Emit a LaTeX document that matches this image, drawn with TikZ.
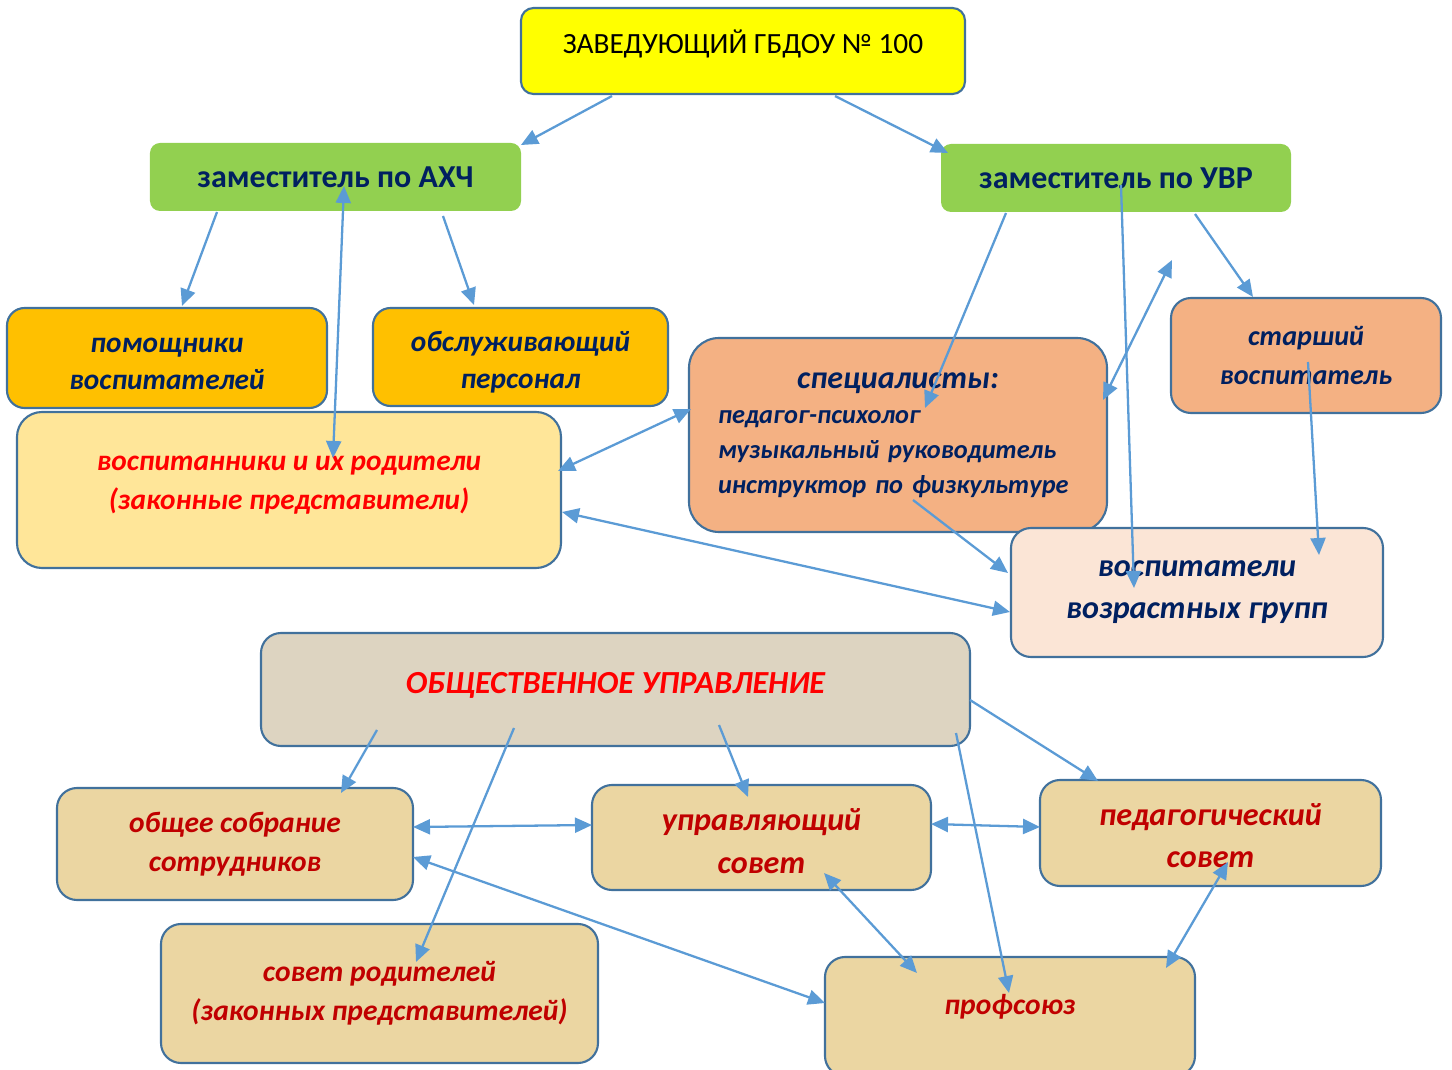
\documentclass[tikz,border=0pt]{standalone}
\usepackage{fontspec}
\setmainfont{Carlito}
\usepackage{tikz}
\usetikzlibrary{arrows.meta, positioning}

\definecolor{boxline}{HTML}{41719C}
\definecolor{linkblue}{HTML}{5B9BD5}
\definecolor{headyellow}{HTML}{FFFF00}
\definecolor{deputygreen}{HTML}{92D050}
\definecolor{navytext}{HTML}{002060}
\definecolor{staffamber}{HTML}{FFC000}
\definecolor{familyyellow}{HTML}{FFE699}
\definecolor{specpeach}{HTML}{F4B183}
\definecolor{grouppeach}{HTML}{FBE5D6}
\definecolor{linen}{HTML}{DDD4C1}
\definecolor{papyrus}{HTML}{EBD6A2}
\definecolor{councilred}{HTML}{C00000}

% move a block of lines inside its box: extra depth lifts it, extra height drops it
\newcommand{\liftlines}[2]{\raisebox{0pt}[\height][\dimexpr\depth+#1\relax]{\begin{tabular}{@{}c@{}}#2\end{tabular}}}
\newcommand{\droplines}[2]{\raisebox{0pt}[\dimexpr\height+#1\relax][\depth]{\begin{tabular}{@{}c@{}}#2\end{tabular}}}

\begin{document}
\begin{tikzpicture}[
    x=0.2mm, y=-0.2mm,
    base box/.style={rectangle, inner sep=0pt, align=center, draw=boxline, line width=1.2pt, rounded corners=3.5mm},
    head node/.style={base box, fill=headyellow, rounded corners=2.5mm, font=\fontsize{16.7}{20}\selectfont},
    deputy node/.style={rectangle, inner sep=0pt, fill=deputygreen, rounded corners=2mm, text=navytext, font=\fontsize{18.2}{22}\selectfont\bfseries},
    staff node/.style={base box, fill=staffamber, text=navytext, font=\fontsize{16.7}{21}\selectfont\bfseries\itshape},
    family node/.style={base box, fill=familyyellow, rounded corners=5mm, text=red, font=\fontsize{16.7}{22}\selectfont\bfseries\itshape},
    spec node/.style={base box, fill=specpeach, rounded corners=6mm, text=navytext, font=\fontsize{15}{20}\selectfont\bfseries\itshape},
    group node/.style={base box, fill=grouppeach, rounded corners=4mm, text=navytext, font=\fontsize{18.3}{24}\selectfont\bfseries\itshape},
    public node/.style={base box, fill=linen, rounded corners=4mm, text=red, font=\fontsize{18.3}{22}\selectfont\bfseries\itshape},
    council node/.style={base box, fill=papyrus, rounded corners=4mm, text=councilred, font=\fontsize{16.8}{22}\selectfont\bfseries\itshape},
    big council/.style={council node, font=\fontsize{18.3}{24}\selectfont\bfseries\itshape},
    arrow/.style={-{Triangle[length=3.4mm,width=3mm]}, draw=linkblue, line width=1.3pt},
    twoway/.style={arrow, {Triangle[length=3.4mm,width=3mm]}-{Triangle[length=3.4mm,width=3mm]}}
]
\useasboundingbox (0,0) rectangle (1452,1070);

% administration
\node[head node, minimum width=88.8mm, minimum height=17.2mm] (head) at (743,51) {\raisebox{3.6mm}{ЗАВЕДУЮЩИЙ ГБДОУ № 100}};
\node[deputy node, minimum width=74.2mm, minimum height=13.6mm] (axch) at (335.5,177) {заместитель по АХЧ};
\node[deputy node, minimum width=70mm, minimum height=13.6mm] (uvr) at (1116,178) {заместитель по УВР};

\node[staff node, minimum width=64mm, minimum height=20mm] (helpers) at (167,358) {\droplines{2.4mm}{помощники\\воспитателей}};
\node[staff node, minimum width=59mm, minimum height=19.6mm] (service) at (520.5,357) {\droplines{2.4mm}{обслуживающий\\персонал}};
\node[family node, minimum width=108.8mm, minimum height=31.2mm] (family) at (289,490)
    {\liftlines{3.2mm}{воспитанники и их родители\\(законные представители)}};
\node[spec node, minimum width=83.6mm, minimum height=38.8mm, text width=72mm, align=left] (spec) at (898,435)
    {\makebox[\linewidth][c]{\fontsize{18.2}{24}\selectfont специалисты:}\\педагог-психолог\\музыкальный руководитель\\инструктор по физкультуре};
\node[spec node, rounded corners=4mm, minimum width=54mm, minimum height=23mm, font=\fontsize{16}{22}\selectfont\bfseries\itshape] (senior) at (1306,355.5) {старший\\воспитатель};
\node[group node, minimum width=74.4mm, minimum height=25.8mm] (groups) at (1197,592.5) {воспитатели\\возрастных групп};
\coordinate (free) at (1172,260);

% public administration
\node[public node, minimum width=141.8mm, minimum height=22.6mm] (public) at (615.5,689.5) {\raisebox{2.8mm}{ОБЩЕСТВЕННОЕ УПРАВЛЕНИЕ}};
\node[council node, minimum width=71.2mm, minimum height=22.4mm] (assembly) at (235,844) {общее собрание\\сотрудников};
\node[big council, minimum width=67.8mm, minimum height=21mm] (board) at (761.5,837.5) {\droplines{2.4mm}{управляющий\\совет}};
\node[big council, minimum width=68.2mm, minimum height=21.2mm] (pedcouncil) at (1210.5,833) {\droplines{2mm}{педагогический\\совет}};
\node[council node, minimum width=87.4mm, minimum height=27.8mm] (parents) at (379.5,993.5) {совет родителей\\(законных представителей)};
\node[council node, minimum width=74mm, minimum height=23.8mm] (union) at (1010,1016.5) {\raisebox{4.8mm}{профсоюз}};

% links
\draw[arrow] ([shift={(-131,45)}]head.center) -- ([shift={(185.5,-32)}]axch.center);
\draw[arrow] ([shift={(92,45)}]head.center) -- ([shift={(-168,-25)}]uvr.center);
\draw[arrow] ([shift={(-118.5,35)}]axch.center) -- ([shift={(15,-52)}]helpers.center);
\draw[arrow] ([shift={(107.5,39)}]axch.center) -- ([shift={(-46.5,-52)}]service.center);
\draw[twoway] ([shift={(8.5,9)}]axch.center) -- ([shift={(44,-32)}]family.center);
\draw[twoway] ([shift={(269,-19)}]family.center) -- ([shift={(-207,-26)}]spec.center);
\draw[twoway] ([shift={(273,22)}]family.center) -- ([shift={(-187,19.5)}]groups.center);
\draw[arrow] ([shift={(-110,35)}]uvr.center) -- ([shift={(27,-27)}]spec.center);
\draw[arrow] ([shift={(5,7)}]uvr.center) -- ([shift={(-63,-4.5)}]groups.center);
\draw[twoway] ([shift={(205,-35)}]spec.center) -- (free);
\draw[arrow] ([shift={(79,36)}]uvr.center) -- ([shift={(-53,-58.5)}]senior.center);
\draw[arrow] ([shift={(2,6.5)}]senior.center) -- ([shift={(122,-37.5)}]groups.center);
\draw[arrow] ([shift={(15,65)}]spec.center) -- ([shift={(-189,-19.5)}]groups.center);

\draw[arrow] ([shift={(-238.5,40.5)}]public.center) -- ([shift={(106,-51)}]assembly.center);
\draw[arrow] ([shift={(-101.5,38.5)}]public.center) -- ([shift={(36.5,-31.5)}]parents.center);
\draw[arrow] ([shift={(103.5,35.5)}]public.center) -- ([shift={(-13.5,-40.5)}]board.center);
\draw[arrow] ([shift={(340.5,43.5)}]public.center) -- ([shift={(-1,-23.5)}]union.center);
\draw[arrow] ([shift={(354.5,10.5)}]public.center) -- ([shift={(-112.5,-52)}]pedcouncil.center);
\draw[twoway] ([shift={(178,-17)}]assembly.center) -- ([shift={(-169.5,-12.5)}]board.center);
\draw[twoway] ([shift={(178,13)}]assembly.center) -- ([shift={(-185,-13.5)}]union.center);
\draw[twoway] ([shift={(169.5,-13.5)}]board.center) -- ([shift={(-170.5,-6)}]pedcouncil.center);
\draw[twoway] ([shift={(62.5,35.5)}]board.center) -- ([shift={(-93,-43.5)}]union.center);
\draw[twoway] ([shift={(17.5,29)}]pedcouncil.center) -- ([shift={(156,-48.5)}]union.center);

\end{tikzpicture}
\end{document}
